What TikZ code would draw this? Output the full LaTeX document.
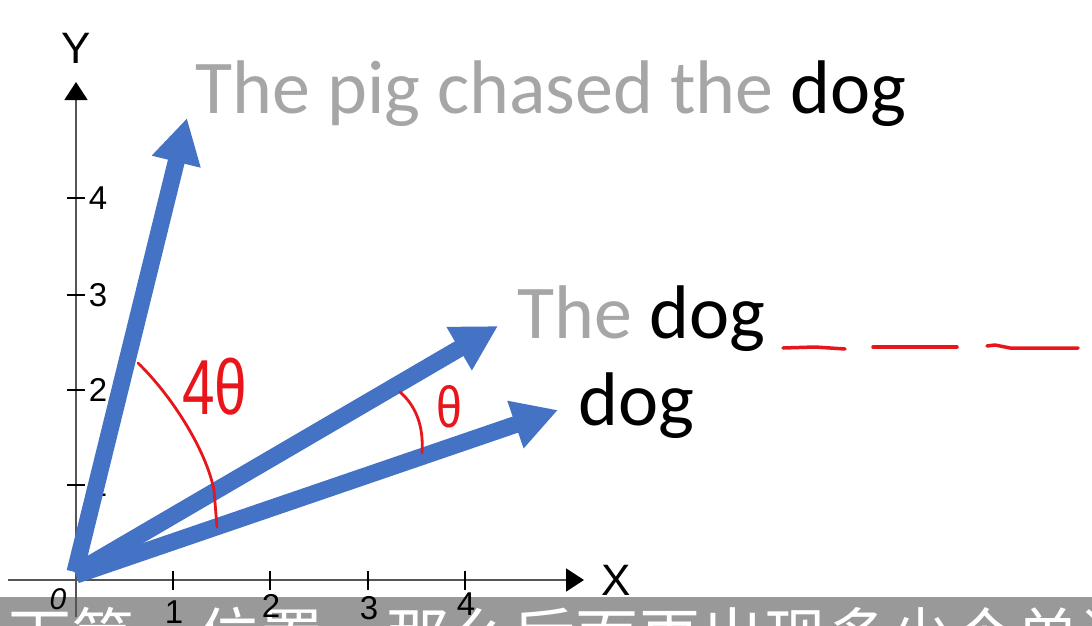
\documentclass[tikz,border=0pt]{standalone}
\usepackage{fontspec}
\setmainfont{Carlito}
\newfontfamily\arialf{Liberation Sans}
\newfontfamily\cjk{Noto Sans CJK SC}
\usetikzlibrary{arrows.meta}
\definecolor{vblue}{HTML}{4472C4}
\definecolor{wgray}{HTML}{A6A6A6}
\definecolor{hred}{HTML}{E8151B}
\definecolor{barg}{HTML}{999999}
\definecolor{axg}{HTML}{555555}
\begin{document}
\begin{tikzpicture}[x=1pt,y=-1pt,
  vec/.style={line width=17pt, vblue, -{Triangle[length=45pt,width=47pt]}},
  ink/.style={hred, line width=2.8pt, line cap=round, line join=round},
  axisline/.style={axg, line width=1.8pt, -{Triangle[length=18pt,width=23pt,color=black]}},
  tickmark/.style={black, line width=1.4pt},
  ticklab/.style={font=\arialf\fontsize{33}{35}\selectfont, inner sep=0pt},
  axlab/.style={font=\arialf\fontsize{44}{46}\selectfont, inner sep=0pt},
  sent/.style={font=\fontsize{76}{80}\selectfont, inner sep=0pt, anchor=base west},
  hand/.style={text=hred, inner sep=0pt, font=\arialf\fontsize{78}{80}\selectfont},
]
\clip (0,0) rectangle (1092,626);
\fill[white] (0,0) rectangle (1092,626);

% subtitle bar
\fill[barg] (0,597) rectangle (1092,626);
\node[font=\cjk\fontsize{63}{63}\selectfont, text=white, anchor=base west, inner sep=0pt] (sub) at (8,660) {下第一位置，那么后面再出现多少个单词};

% axes
\coordinate (xs) at (8,580);
\coordinate (xe) at (584,580);
\coordinate (ys) at (76,617);
\coordinate (ye) at (76,82);
\draw[axisline] (xs) -- (xe);
\draw[axisline] (ys) -- (ye);
\node[axlab] (ylab) at (76,48) {Y};
\node[axlab] (xlab) at (616,580) {X};
\foreach \i/\x/\ly in {1/173/612,2/270/606,3/368/608,4/465/604}{
  \draw[tickmark] (\x,571) -- (\x,590);
  \node[ticklab] (xt\i) at (\x+1,\ly) {\i};
}
\foreach \i/\y in {1/485,2/390,3/295,4/198}{
  \draw[tickmark] (67,\y) -- (85,\y);
  \node[ticklab] (yt\i) at (98,\y) {\i};
}
\node[ticklab, font=\arialf\itshape\fontsize{30}{32}\selectfont] (zero) at (58,599) {0};

% sentences
\node[sent] (s1) at (195,113) {\textcolor{wgray}{The pig chased the} dog};
\node[sent] (s2) at (517,338) {\textcolor{wgray}{The} dog};
\node[sent] (s3) at (578,425) {dog};

% vectors
\coordinate (o1) at (75,572);
\coordinate (t1) at (187,118);
\coordinate (o2) at (75,573);
\coordinate (t2) at (498,326);
\coordinate (o3) at (76,575);
\coordinate (t3) at (558,410);
\draw[vec] (o1) -- (t1);
\draw[vec] (o2) -- (t2);
\draw[vec] (o3) -- (t3);

% red annotations
\draw[ink] (138,363) .. controls (172,396) and (206,450) .. (214,490) -- (217,527);
\draw[ink] (400,392) .. controls (415,405) and (424,425) .. (422,453);
\node[hand] (a4) at (215,387) {\scalebox{0.75}[1]{4θ}};
\node[hand, font=\arialf\fontsize{58}{60}\selectfont] (a1) at (449,407) {\scalebox{0.8}[1]{θ}};
\draw[ink, line width=3.5pt] (783,348) -- (815,347) -- (845,349);
\draw[ink, line width=3.5pt] (873,347) -- (957,347);
\draw[ink, line width=3.5pt] (987,346) -- (995,345) -- (1010,348) -- (1078,348);
\end{tikzpicture}
\end{document}
